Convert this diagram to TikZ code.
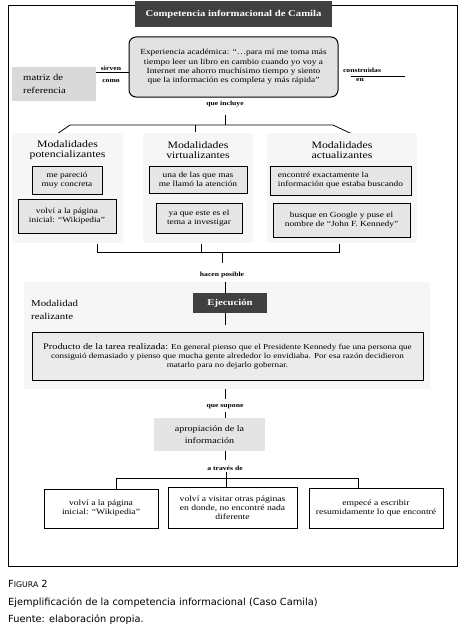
\documentclass[tikz,border=0pt]{standalone}
\usepackage{fontspec}
\setmainfont{Liberation Serif}[FakeStretch=1.2]
\newfontfamily\capfont{DejaVu Sans}
\definecolor{darkbox}{HTML}{404040}
\definecolor{expfill}{HTML}{E2E2E2}
\definecolor{matfill}{HTML}{D9D9D9}
\definecolor{panelfill}{HTML}{F6F6F6}
\definecolor{innerfill}{HTML}{E6E6E6}
\definecolor{apfill}{HTML}{E4E4E4}
\definecolor{prodfill}{HTML}{EBEBEB}
\tikzset{
  darkhead/.style={fill=darkbox,text=white,font=\fontsize{8.9}{10}\selectfont\bfseries,inner sep=0pt,align=center},
  innerbox/.style={draw=black,line width=0.8pt,fill=innerfill,inner sep=0pt,align=center,font=\fontsize{7.8}{9}\selectfont},
  panel/.style={fill=panelfill,inner sep=0pt},
  ptitle/.style={font=\fontsize{9.8}{10.5}\selectfont,align=center,inner sep=0pt},
  lab/.style={font=\fontsize{6.4}{6.4}\selectfont\bfseries,inner sep=0pt},
  conn/.style={line width=0.8pt},
  whitebox/.style={draw=black,line width=0.8pt,fill=white,inner sep=0pt,align=center,font=\fontsize{8}{9}\selectfont},
  captext/.style={anchor=base west,inner sep=0pt,font=\capfont\fontsize{9.8}{10}\selectfont},
}
\begin{document}
\begin{tikzpicture}[x=1pt,y=-1pt]
\useasboundingbox (0,0) rectangle (460,634);
% outer frame
\draw[line width=0.9pt] (8,5) rectangle (457,566);
% title
\node[darkhead,minimum width=197pt,minimum height=26pt] (title) at (233.5,14) {Competencia informacional de Camila};
% experience box
\node[draw=black,line width=1pt,fill=expfill,rounded corners=7pt,minimum width=209pt,minimum height=60pt,align=center,inner sep=0pt,font=\fontsize{7.8}{9.3}\selectfont] (exp) at (233.5,67)
 {Experiencia académica: “…para mí me toma más\\ tiempo leer un libro en cambio cuando yo voy a\\ Internet me ahorro muchísimo tiempo y siento\\ que la información es completa y más rápida”};
% matriz de referencia
\node[fill=matfill,minimum width=84pt,minimum height=34pt,inner sep=0pt] (mat) at (54,84) {};
\node[font=\fontsize{8.9}{13}\selectfont,align=left,anchor=west,inner sep=0pt] (mattext) at (23,83.5) {matriz de\\referencia};
\coordinate (matR) at (96,72);
\coordinate (expL) at (129,72);
\draw[conn] (matR) -- (expL);
\node[lab,anchor=south] (sirven) at (111,70.5) {sirven};
\node[lab,anchor=north] (como) at (111,79) {como};
% right connector
\coordinate (consA) at (351,76);
\coordinate (consB) at (405,76);
\draw[conn] (consA) -- (consB);
\node[lab,anchor=south] (constr) at (362,73) {construidas};
\node[lab,anchor=north] (en) at (360,78.5) {en};
% que incluye
\node[lab] (incluye) at (225,103.5) {que incluye};
\coordinate (incA) at (225,115);
\coordinate (incB) at (225,125);
\coordinate (hL) at (70,125);
\coordinate (hR) at (333,125);
\coordinate (dL) at (57,134);
\coordinate (dR) at (352,134);
\coordinate (tM) at (195,132);
\coordinate (tMt) at (195,125);
\draw[conn] (incA) -- (incB);
\draw[conn] (dL) -- (hL) -- (hR) -- (dR);
\draw[conn] (tMt) -- (tM);
% panels
\node[panel,minimum width=111pt,minimum height=110pt] (pL) at (67.5,188) {};
\node[panel,minimum width=110pt,minimum height=110pt] (pM) at (198,188) {};
\node[panel,minimum width=150pt,minimum height=110pt] (pR) at (342,188) {};
\node[ptitle] (tL) at (67.5,150) {Modalidades\\potencializantes};
\node[ptitle] (tMm) at (198,150) {Modalidades\\virtualizantes};
\node[ptitle] (tR) at (342,150) {Modalidades\\actualizantes};
% inner boxes
\node[innerbox,minimum width=70pt,minimum height=28pt] (l1) at (67,180) {me pareció\\muy concreta};
\node[innerbox,minimum width=98pt,minimum height=34pt] (l2) at (67,216) {volví a la página\\inicial: “Wikipedia”};
\node[innerbox,minimum width=98pt,minimum height=27pt] (m1) at (198,179.5) {una de las que mas\\me llamó la atención};
\node[innerbox,minimum width=86pt,minimum height=30pt] (m2) at (199,218) {ya que este es el\\tema a investigar};
\node[innerbox,minimum width=141pt,minimum height=29pt,align=left] (r1) at (340.5,180.5) {encontré exactamente la\\información que estaba buscando};
\node[innerbox,minimum width=137pt,minimum height=34pt] (r2) at (341.5,220) {busque en Google y puse el\\nombre de “John F. Kennedy”};
% bottom bracket
\coordinate (bL) at (97,244);
\coordinate (bM) at (201,244);
\coordinate (bR) at (339,244);
\coordinate (bLd) at (97,252);
\coordinate (bMd) at (201,252);
\coordinate (bRd) at (339,252);
\coordinate (bC) at (222,252);
\coordinate (bCd) at (222,263);
\draw[conn] (bL) -- (bLd) -- (bRd) -- (bR);
\draw[conn] (bM) -- (bMd);
\draw[conn] (bC) -- (bCd);
\node[lab] (hacen) at (222,275) {hacen posible};
% modalidad realizante panel
\node[panel,minimum width=406pt,minimum height=107pt] (pReal) at (227,335.5) {};
\node[font=\fontsize{9}{13}\selectfont,align=left,anchor=west,inner sep=0pt] (realtxt) at (31,309.5) {Modalidad\\realizante};
\node[darkhead,minimum width=74pt,minimum height=20pt] (ejec) at (230,303) {Ejecución};
\coordinate (eA) at (225,282);
\coordinate (eB) at (225,325);
\draw[conn] (eA) -- (ejec.north -| eA);
\draw[conn] (ejec.south -| eB) -- (eB);
\node[draw=black,line width=0.8pt,fill=prodfill,minimum width=391pt,minimum height=48pt,inner sep=0pt,align=center,font=\fontsize{7.6}{9}\selectfont] (prod) at (227.5,356)
 {{\fontsize{8.6}{9}\selectfont Producto de la tarea realizada:} En general pienso que el Presidente Kennedy fue una persona que\\ consiguió demasiado y pienso que mucha gente alrededor lo envidiaba. Por esa razón decidieron\\ matarlo para no dejarlo gobernar.};
% que supone
\coordinate (sA) at (225,389);
\coordinate (sB) at (225,399);
\draw[conn] (sA) -- (sB);
\node[lab] (supone) at (225,406.5) {que supone};
\node[fill=apfill,minimum width=111pt,minimum height=33pt,inner sep=0pt,align=center,font=\fontsize{8.4}{11.5}\selectfont] (apro) at (209.5,434.5) {apropiación de la\\información};
\coordinate (sC) at (225,412);
\draw[conn] (sC) -- (apro.north -| sC);
\coordinate (aD) at (225,460);
\draw[conn] (apro.south -| aD) -- (aD);
\node[lab] (traves) at (225,468) {a través de};
% lower bracket
\coordinate (wL) at (116,478);
\coordinate (wM) at (226,478);
\coordinate (wR) at (358,478);
\coordinate (wT) at (226,472);
\node[whitebox,minimum width=114pt,minimum height=39pt] (w1) at (101,508.5) {volví a la página\\inicial: “Wikipedia”};
\node[whitebox,minimum width=129pt,minimum height=41pt] (w2) at (232.5,507.5) {volví a visitar otras páginas\\en donde, no encontré nada\\diferente};
\node[whitebox,minimum width=134pt,minimum height=40pt] (w3) at (376,508) {empecé a escribir\\resumidamente lo que encontré};
\draw[conn] (w1.north -| wL) -- (wL) -- (wR) -- (w3.north -| wR);
\draw[conn] (wM) -- (w2.north -| wM);
\draw[conn] (wT) -- (wM);
% caption
\node[captext] (fig) at (8,587) {F{\fontsize{7.8}{10}\selectfont IGURA} 2};
\node[captext] (cap) at (8,605) {Ejemplificación de la competencia informacional (Caso Camila)};
\node[captext] (src) at (8,622) {Fuente: elaboración propia.};
\end{tikzpicture}
\end{document}
